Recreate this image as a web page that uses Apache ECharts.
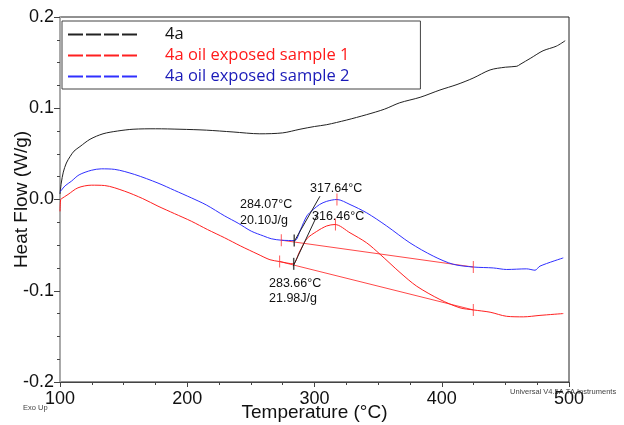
<!DOCTYPE html>
<html>
<head>
<meta charset="utf-8">
<script src="https://cdn.jsdelivr.net/npm/echarts@6/dist/echarts.min.js"></script>
<style>
html,body{margin:0;padding:0;background:#fff;}
#c{width:624px;height:425px;}
</style>
</head>
<body>
<div id="c"></div>
<script>
// ---- data ----
const seriesNames = ['4a', '4a oil exposed sample 1', '4a oil exposed sample 2'];
const xTicks = [100, 200, 300, 400, 500];
const yTicks = [-0.2, -0.1, 0.0, 0.1, 0.2];

const blackT  = [100,101,102.6,105,107.9,111,115.7,123.6,133.8,145,157.4,175,194.3,215,236,257,275,288.6,300,309.6,325,341,355,367,383,398.6,412,424.6,438,450,459,461.5,470,479.6,490,497];
const blackHF = [0.006,0.018,0.03,0.040,0.047,0.053,0.058,0.066,0.072,0.075,0.077,0.0775,0.077,0.076,0.074,0.072,0.073,0.077,0.080,0.082,0.087,0.093,0.099,0.106,0.112,0.120,0.126,0.133,0.142,0.145,0.146,0.148,0.155,0.163,0.168,0.174];

const redT  = [100,100.5,101,106.3,114.1,124.6,135.1,150.8,165,177,190,203.2,216,229.4,242,255.6,265,272.6,283.1,288,294,301.7,309.6,316.1,327.9,341,351.5,367.2,380.3,398.6,414.3,424.8,438,451,464.1,477.2,495.5];
const redHF = [-0.013,0.0,0.0007,0.0055,0.0128,0.0157,0.0153,0.0091,0.001,-0.0073,-0.0155,-0.0238,-0.033,-0.042,-0.051,-0.060,-0.066,-0.068,-0.0705,-0.058,-0.043,-0.035,-0.029,-0.0274,-0.0365,-0.0475,-0.060,-0.080,-0.095,-0.1096,-0.1187,-0.121,-0.1235,-0.128,-0.1286,-0.127,-0.125];

const blueT  = [100,101,104,108.9,115,124.6,132.5,143,158.7,177,190,203.2,215,229.4,240,250.3,260,266,273.9,284.4,289,294,299,304,309.6,317.6,327.9,341,356.7,375,393.3,409,424.8,440.5,451,466.7,473.3,477.2,495.5];
const blueHF = [0.008,0.010,0.015,0.020,0.027,0.032,0.0336,0.033,0.0274,0.018,0.010,0.0018,-0.006,-0.018,-0.026,-0.0347,-0.040,-0.043,-0.0446,-0.045,-0.033,-0.018,-0.011,-0.0055,-0.002,0.0,-0.0055,-0.0146,-0.029,-0.0475,-0.062,-0.071,-0.074,-0.075,-0.0767,-0.076,-0.0775,-0.073,-0.064];

// integration baselines (start / end temperatures and heat flows)
const base1T = [272.6, 424.8], base1HF = [-0.068, -0.121];
const base2T = [273.9, 424.8], base2HF = [-0.0446, -0.074];
// onset tangent lines
const tan1T = [283.3, 303.0], tan1HF = [-0.073, -0.0146];
const tan2T = [284.2, 304.3], tan2HF = [-0.0457, 0.0036];
// tick marks on curves
const redTickT  = [272.6, 424.8, 316.46, 273.9, 424.8, 317.64];
const redTickHF = [-0.068, -0.121, -0.0274, -0.0446, -0.074, 0.0];
const blackTickT  = [283.66, 284.07];
const blackTickHF = [-0.0705, -0.045];

const zip = (a, b) => a.map((v, i) => [v, b[i]]);

const chart = echarts.init(document.getElementById('c'));
const dashIcon = 'path://M0,0h15v2h-15z M18,0h15v2h-15z M36,0h15v2h-15z M54,0h15v2h-15z';
const F = '"Liberation Sans", Arial, sans-serif';

chart.setOption({
  animation: false,
  backgroundColor: '#fff',
  grid: { left: 60, right: 55, top: 17, bottom: 43, containLabel: false, outerBoundsMode: 'none',
    show: true, borderColor: '#222', borderWidth: 1, backgroundColor: 'transparent' },
  legend: {
    orient: 'vertical', left: 62, top: 21,
    backgroundColor: '#fff', borderColor: '#444', borderWidth: 1,
    padding: [3, 71, 2, 6],
    itemWidth: 69, itemHeight: 2, itemGap: 0,
    textStyle: { fontFamily: '"Open Sans", sans-serif', fontSize: 16.5, lineHeight: 21, padding: [0, 0, 0, 23] },
    data: [
      { name: seriesNames[0], icon: dashIcon, textStyle: { color: '#111' } },
      { name: seriesNames[1], icon: dashIcon, textStyle: { color: '#ff1a1a' } },
      { name: seriesNames[2], icon: dashIcon, textStyle: { color: '#1a1ab8' } }
    ]
  },
  xAxis: {
    type: 'value', min: 100, max: 500, interval: 100,
    name: 'Temperature (°C)', nameLocation: 'middle', nameGap: 31, nameMoveOverlap: false,
    nameTextStyle: { fontFamily: F, fontSize: 19, color: '#111', verticalAlign: 'middle' },
    axisLine: { show: true, onZero: false, lineStyle: { color: '#444', width: 1 } },
    axisTick: { show: true, length: 5, lineStyle: { color: '#444' } },
    minorTick: { show: true, splitNumber: 4, length: 3, lineStyle: { color: '#444' } },
    axisLabel: { fontFamily: F, fontSize: 18, color: '#111', margin: 8 },
    splitLine: { show: false }
  },
  yAxis: {
    type: 'value', min: -0.2, max: 0.2, interval: 0.1,
    name: 'Heat Flow (W/g)', nameLocation: 'middle', nameGap: 38, nameMoveOverlap: false,
    nameTextStyle: { fontFamily: F, fontSize: 19, color: '#111', verticalAlign: 'middle' },
    axisLine: { show: true, onZero: false, lineStyle: { color: '#aaa', width: 2 } },
    axisTick: { show: true, length: 6, lineStyle: { color: '#444' } },
    minorTick: { show: true, splitNumber: 4, length: 3, lineStyle: { color: '#444' } },
    axisLabel: { fontFamily: F, fontSize: 18, color: '#111', margin: 6,
      formatter: v => { const t = yTicks.find(y => Math.abs(y - v) < 1e-9); return (t !== undefined ? t : v).toFixed(1); } },
    splitLine: { show: false }
  },
  series: [
    { name: seriesNames[0], type: 'line', data: zip(blackT, blackHF), showSymbol: false, smooth: 0.3,
      lineStyle: { color: '#222', width: 1 }, itemStyle: { color: '#222' }, z: 3 },
    { name: seriesNames[1], type: 'line', data: zip(redT, redHF), showSymbol: false, smooth: 0.3,
      lineStyle: { color: '#ff2020', width: 1 }, itemStyle: { color: '#ff2020' }, z: 3 },
    { name: seriesNames[2], type: 'line', data: zip(blueT, blueHF), showSymbol: false, smooth: 0.3,
      lineStyle: { color: '#3030ff', width: 1 }, itemStyle: { color: '#3030ff' }, z: 3 },
    { type: 'line', data: zip(base1T, base1HF), showSymbol: false, lineStyle: { color: '#ff4a4a', width: 1 }, z: 2 },
    { type: 'line', data: zip(base2T, base2HF), showSymbol: false, lineStyle: { color: '#ff4a4a', width: 1 }, z: 2 },
    { type: 'line', data: zip(tan1T, tan1HF), showSymbol: false, lineStyle: { color: '#222', width: 1 }, z: 4 },
    { type: 'line', data: zip(tan2T, tan2HF), showSymbol: false, lineStyle: { color: '#222', width: 1 }, z: 4 },
    { type: 'scatter', data: zip(redTickT, redTickHF), symbol: 'rect', symbolSize: [1, 12],
      itemStyle: { color: '#ff3030' }, z: 5, silent: true },
    { type: 'scatter', data: zip(blackTickT, blackTickHF), symbol: 'rect', symbolSize: [1.5, 12],
      itemStyle: { color: '#222' }, z: 5, silent: true }
  ],
  graphic: [
    { type: 'text', left: 240, top: 197, style: { text: '284.07°C\n20.10J/g', font: '12.5px ' + F, fill: '#111', lineHeight: 16 } },
    { type: 'text', left: 310, top: 182, style: { text: '317.64°C', font: '12.5px ' + F, fill: '#111' } },
    { type: 'text', left: 312, top: 210, style: { text: '316.46°C', font: '12.5px ' + F, fill: '#111' } },
    { type: 'text', left: 269, top: 276, style: { text: '283.66°C\n21.98J/g', font: '12.5px ' + F, fill: '#111', lineHeight: 15 } },
    { type: 'text', left: 23, top: 404, style: { text: 'Exo Up', font: '7.5px ' + F, fill: '#444' } },
    { type: 'text', left: 510, top: 388, style: { text: 'Universal V4.5A TA Instruments', font: '7.5px ' + F, fill: '#444' } }
  ]
});
</script>
</body>
</html>
